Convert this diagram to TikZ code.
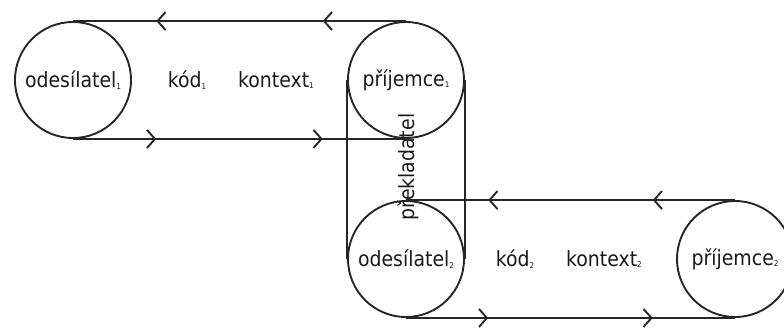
\documentclass[tikz,border=0pt]{standalone}
\usepackage{fontspec}
\setmainfont{DejaVu Sans Condensed}
\usetikzlibrary{decorations.markings,arrows.meta}
\newcommand{\ssub}[1]{\raisebox{-1.5pt}{\fontsize{8}{8}\selectfont #1}}
\begin{document}
\begin{tikzpicture}[x=1pt,y=-1pt,line width=1.9pt, draw=black!85,
  lbl/.style={font=\fontsize{21}{24}\selectfont, text=black!90, inner sep=0pt},
  circ/.style={circle, draw=black!85, line width=1.9pt, minimum size=116pt, inner sep=0pt},
  flow/.style={draw=black!85, postaction={decorate}, decoration={markings,
    mark=at position 0.25 with {\arrow{Straight Barb[length=8pt,width=18pt,line width=1.9pt]}},
    mark=at position 0.75 with {\arrow{Straight Barb[length=8pt,width=18pt,line width=1.9pt]}}}}]
\useasboundingbox (0,0) rectangle (784,333);
% circles
\node[circ] (c1) at (73,80) {};
\node[circ] (c2) at (406,80) {};
\node[circ] (c3) at (406,259) {};
\node[circ] (c4) at (735,259) {};
% translator box
\draw (c2.west) -- (c3.west);
\draw (c2.east) -- (c3.east);
% connectors
\draw[flow] (c2.north) -- (c1.north);
\draw[flow] (c1.south) -- (c2.south);
\draw[flow] (c4.north) -- (c3.north);
\draw[flow] (c3.south) -- (c4.south);
% labels
\node[lbl] (t1) at (c1) {odesílatel\ssub{1}};
\node[lbl] (t2) at (c2) {příjemce\ssub{1}};
\node[lbl] (t3) at (c3) {odesílatel\ssub{2}};
\node[lbl] (t4) at (c4) {příjemce\ssub{2}};
\node[lbl] (k1) at (187,80) {kód\ssub{1}};
\node[lbl] (x1) at (276,80) {kontext\ssub{1}};
\node[lbl] (k2) at (515,259) {kód\ssub{2}};
\node[lbl] (x2) at (604,259) {kontext\ssub{2}};
\node[lbl, rotate=90] (tr) at (408,167) {překladatel};
\end{tikzpicture}
\end{document}
